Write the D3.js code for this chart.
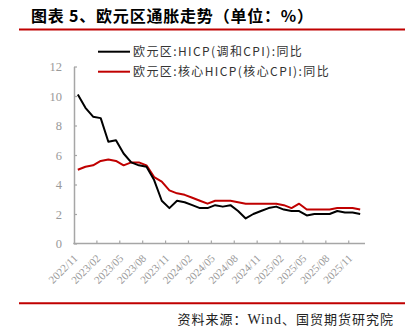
<!DOCTYPE html>
<html><head><meta charset="utf-8">
<script src="https://cdn.jsdelivr.net/npm/d3@7"></script>
<style>body{margin:0;background:#fff}svg{display:block}</style>
</head><body>
<svg id="c" width="405" height="333"></svg>
<script>
const months = ["2022/11","2022/12","2023/01","2023/02","2023/03","2023/04","2023/05","2023/06","2023/07","2023/08","2023/09","2023/10",
"2023/11","2023/12","2024/01","2024/02","2024/03","2024/04","2024/05","2024/06","2024/07","2024/08","2024/09","2024/10",
"2024/11","2024/12","2025/01","2025/02","2025/03","2025/04","2025/05","2025/06","2025/07","2025/08","2025/09","2025/10","2025/11","2025/12"];
const hicp = [10.1,9.2,8.6,8.5,6.9,7.0,6.1,5.5,5.3,5.2,4.3,2.9,2.4,2.9,2.8,2.6,2.4,2.4,2.6,2.5,2.6,2.2,1.7,2.0,2.2,2.4,2.5,2.3,2.2,2.2,1.9,2.0,2.0,2.0,2.2,2.1,2.1,2.0];
const core = [5.0,5.2,5.3,5.6,5.7,5.6,5.3,5.5,5.5,5.3,4.5,4.2,3.6,3.4,3.3,3.1,2.9,2.7,2.9,2.9,2.9,2.8,2.7,2.7,2.7,2.7,2.7,2.6,2.4,2.7,2.3,2.3,2.3,2.3,2.4,2.4,2.4,2.3];
const tickLabels = ["2022/11","2023/02","2023/05","2023/08","2023/11","2024/02","2024/05","2024/08","2024/11","2025/02","2025/05","2025/08","2025/11"];
const yTicks = [0,2,4,6,8,10,12];
const seriesNames = ["欧元区:HICP(调和CPI):同比","欧元区:核心HICP(核心CPI):同比"];
const titleText = "图表 5、欧元区通胀走势（单位：%）";

const svg = d3.select("#c");
const RED = "#c00000", AX = "#a6a6a6", TXT = "#999";

// title & rules
svg.append("text").attr("x",31).attr("y",22).attr("font-family","Noto Sans CJK SC").attr("font-weight",700)
  .attr("font-size",16).attr("letter-spacing",0.8).attr("fill","#000").text(titleText);
svg.append("line").attr("x1",19).attr("x2",405).attr("y1",29.5).attr("y2",29.5).attr("stroke",RED).attr("stroke-width",2);
svg.append("line").attr("x1",19).attr("x2",405).attr("y1",303.3).attr("y2",303.3).attr("stroke",RED).attr("stroke-width",2);
const src = svg.append("text").attr("x",394).attr("y",323.5).attr("text-anchor","end").attr("font-family","Noto Sans CJK SC")
  .attr("font-size",13).attr("letter-spacing",1).attr("fill","#222");
src.append("tspan").text("资料来源：");
src.append("tspan").attr("font-family","Liberation Serif").attr("font-size",14).text("Wind");
src.append("tspan").text("、国贸期货研究院");

// scales
const x = d3.scaleBand().domain(months).range([74,364]).paddingInner(0).paddingOuter(0);
const y = d3.scaleLinear().domain([0,12]).range([243.5,66.5]);
const cx = m => x(m) + x.bandwidth()/2;

// y axis
const gy = svg.append("g").attr("transform","translate(74,0)")
  .call(d3.axisLeft(y).tickValues(yTicks).tickSizeInner(-3).tickSizeOuter(0).tickPadding(12));
gy.select(".domain").attr("stroke",AX).attr("stroke-width",1.5);
gy.selectAll(".tick line").attr("stroke",AX).attr("stroke-width",1.2);
gy.selectAll(".tick text").attr("font-family","Liberation Serif").attr("font-size",12.5).attr("fill",TXT);

// x axis line and ticks
svg.append("line").attr("x1",73.25).attr("x2",365).attr("y1",243.5).attr("y2",243.5).attr("stroke",AX).attr("stroke-width",1.5);
const tickMonths = months.filter((m,i)=> i>0 && i%3===0);
svg.selectAll(".xt").data(tickMonths).join("line").attr("class","xt")
  .attr("x1",d=>x(d)).attr("x2",d=>x(d)).attr("y1",243.5).attr("y2",240.5).attr("stroke",AX).attr("stroke-width",1.2);
svg.selectAll(".xl").data(tickLabels).join("text").attr("class","xl")
  .attr("transform",d=>`translate(${cx(d)+0.5},259) rotate(-45)`)
  .attr("text-anchor","end").attr("font-family","Liberation Serif").attr("font-size",11).attr("fill",TXT).text(d=>d);

// lines
const line = vals => d3.line().x((d,i)=>cx(months[i])).y(d=>y(d))(vals);
svg.append("path").attr("d",line(core)).attr("fill","none").attr("stroke",RED).attr("stroke-width",2).attr("stroke-linejoin","round");
svg.append("path").attr("d",line(hicp)).attr("fill","none").attr("stroke","#000").attr("stroke-width",2).attr("stroke-linejoin","round");

// legend
const leg = svg.selectAll(".lg").data(seriesNames).join("g").attr("class","lg")
  .attr("transform",(d,i)=>`translate(98,${51.7+i*20})`);
leg.append("line").attr("x1",0).attr("x2",32).attr("stroke",(d,i)=>i?RED:"#000").attr("stroke-width",2);
leg.append("text").attr("x",35).attr("y",4.3).attr("font-family","Noto Sans CJK SC").attr("font-size",12)
  .attr("letter-spacing",1.4).attr("fill","#333").text(d=>d);
</script>
</body></html>
